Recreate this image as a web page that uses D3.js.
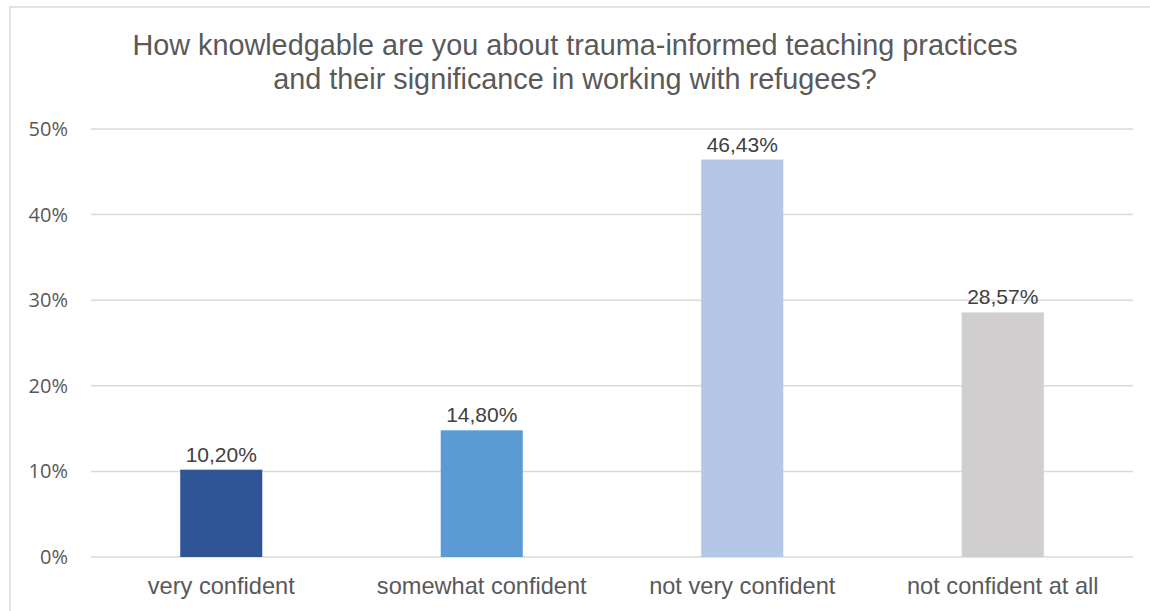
<!DOCTYPE html>
<html>
<head>
<meta charset="utf-8">
<script src="https://cdn.jsdelivr.net/npm/d3@7"></script>
<style>
  html, body { margin: 0; padding: 0; background: #ffffff; }
  svg { display: block; }
</style>
</head>
<body>
<svg id="chart" width="1150" height="611"></svg>
<script>
// Survey answers and their shares of respondents
const categories = ["very confident", "somewhat confident", "not very confident", "not confident at all"];
const shares = [0.1020, 0.1480, 0.4643, 0.2857];
const shareLabels = ["10,20%", "14,80%", "46,43%", "28,57%"];
const barColors = ["#2F5597", "#5B9BD5", "#B4C7E7", "#D0CECE"];
const yTicks = [0, 0.1, 0.2, 0.3, 0.4, 0.5];
const yTickLabels = ["0%", "10%", "20%", "30%", "40%", "50%"];
const titleLines = [
  "How knowledgable are you about trauma-informed teaching practices",
  "and their significance in working with refugees?"
];

const svg = d3.select("#chart");
const W = 1150, H = 611;
const plot = { left: 91, right: 1133, top: 129, bottom: 557 };

// outer chart frame
svg.append("rect")
  .attr("x", 10).attr("y", 7)
  .attr("width", W + 20).attr("height", H + 20)
  .attr("fill", "#ffffff")
  .attr("stroke", "#d9d9d9")
  .attr("stroke-width", 1.5);

// title
svg.append("g").selectAll("text")
  .data(titleLines)
  .join("text")
  .attr("x", 575)
  .attr("y", (d, i) => 55 + i * 33.5)
  .attr("text-anchor", "middle")
  .attr("font-family", "'Liberation Sans', Arial, sans-serif")
  .attr("font-size", 28.8)
  .attr("fill", "#595959")
  .text(d => d);

const x = d3.scaleBand()
  .domain(categories)
  .range([plot.left, plot.right])
  .paddingInner(0.685)
  .paddingOuter(0.3425);

const y = d3.scaleLinear()
  .domain([0, 0.5])
  .range([plot.bottom, plot.top]);

// horizontal gridlines
svg.append("g").selectAll("line")
  .data(yTicks)
  .join("line")
  .attr("x1", plot.left).attr("x2", plot.right)
  .attr("y1", d => y(d)).attr("y2", d => y(d))
  .attr("stroke", "#d9d9d9")
  .attr("stroke-width", 1.5);

// value axis labels
const yAxis = d3.axisLeft(y)
  .tickValues(yTicks)
  .tickFormat((d, i) => yTickLabels[i])
  .tickSize(0)
  .tickPadding(0);

const yAxisG = svg.append("g")
  .attr("transform", "translate(68,0)")
  .call(yAxis);
yAxisG.select(".domain").remove();
yAxisG.selectAll("text")
  .attr("font-family", "'Open Sans', sans-serif")
  .attr("font-size", 20)
  .attr("fill", "#595959");

// bars
svg.append("g").selectAll("rect")
  .data(categories)
  .join("rect")
  .attr("x", d => x(d))
  .attr("y", (d, i) => y(shares[i]))
  .attr("width", x.bandwidth())
  .attr("height", (d, i) => y(0) - y(shares[i]))
  .attr("fill", (d, i) => barColors[i]);

// value labels above the bars
svg.append("g").selectAll("text")
  .data(categories)
  .join("text")
  .attr("x", d => x(d) + x.bandwidth() / 2)
  .attr("y", (d, i) => y(shares[i]) - 8)
  .attr("text-anchor", "middle")
  .attr("font-family", "'Liberation Sans', Arial, sans-serif")
  .attr("font-size", 21)
  .attr("fill", "#404040")
  .text((d, i) => shareLabels[i]);

// category axis
const xAxis = d3.axisBottom(x).tickSize(0).tickPadding(0);
const xAxisG = svg.append("g")
  .attr("transform", `translate(0,${plot.bottom})`)
  .call(xAxis);
xAxisG.select(".domain").remove();
xAxisG.selectAll("text")
  .attr("dy", null)
  .attr("y", 37)
  .attr("font-family", "'Liberation Sans', Arial, sans-serif")
  .attr("font-size", 23.6)
  .attr("fill", "#595959");
</script>
</body>
</html>
